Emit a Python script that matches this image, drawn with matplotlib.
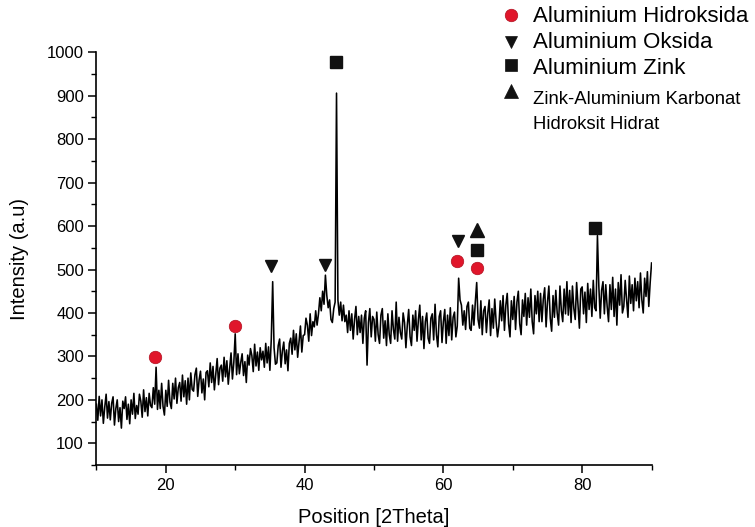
import numpy as np
import matplotlib
matplotlib.use("Agg")
import matplotlib.pyplot as plt
from matplotlib.lines import Line2D
from matplotlib.ticker import MultipleLocator

plt.rcParams['font.family'] = ['Liberation Sans', 'DejaVu Sans']

# 2theta grid: 10.0 .. 90.0 in 0.2 steps
two_theta_start = 10.0
two_theta_step = 0.2
intensity = [
    190, 153, 208, 163, 200, 146, 183, 213, 158, 196,   # 10-12
    154, 192, 207, 142, 180, 200, 150, 182, 135, 197,   # 12-14
    180, 207, 155, 190, 145, 200, 167, 215, 157, 187,   # 14-16
    167, 213, 197, 160, 223, 173, 205, 163, 215, 187,   # 16-18
    182, 228, 190, 275, 178, 222, 180, 238, 185, 165,   # 18-20
    222, 185, 245, 195, 180, 238, 202, 250, 192, 228,   # 20-22
    240, 197, 257, 207, 244, 190, 250, 200, 262, 224,   # 22-24
    220, 258, 273, 208, 246, 266, 216, 248, 200, 263,   # 24-26
    267, 230, 285, 240, 277, 223, 260, 295, 235, 273,   # 26-28
    280, 243, 298, 253, 290, 236, 273, 308, 248, 286,   # 28-30
    352, 258, 306, 260, 286, 306, 256, 288, 240, 303,   # 30-32
    280, 318, 302, 265, 328, 278, 310, 268, 320, 292,   # 32-34
    312, 275, 330, 285, 322, 268, 340, 472, 320, 282,   # 34-36
    285, 325, 340, 275, 313, 333, 283, 315, 267, 330,   # 36-38
    342, 305, 360, 315, 352, 298, 335, 370, 310, 348,   # 38-40
    350, 388, 372, 335, 398, 348, 380, 368, 405, 372,   # 40-42
    398, 435, 405, 450, 420, 487, 440, 412, 430, 385,   # 42-44
    378, 410, 425, 906, 430, 395, 425, 382, 418, 380,   # 44-46
    395, 355, 405, 360, 398, 340, 385, 415, 350, 392,   # 46-48
    355, 395, 330, 388, 405, 280, 378, 410, 345, 392,   # 48-50
    385, 335, 402, 350, 330, 395, 410, 342, 382, 325,   # 50-52
    398, 350, 330, 405, 362, 340, 425, 335, 390, 355,   # 52-54
    340, 400, 378, 320, 372, 408, 345, 325, 395, 360,   # 54-56
    405, 335, 385, 418, 338, 392, 318, 380, 400, 342,   # 56-58
    330, 388, 398, 338, 420, 350, 322, 392, 405, 332,   # 58-60
    380, 408, 330, 395, 348, 412, 338, 390, 402, 345,   # 60-62
    370, 480, 430, 418, 372, 405, 362, 415, 425, 365,   # 62-64
    360, 418, 372, 425, 470, 385, 365, 428, 350, 405,   # 64-66
    415, 355, 400, 430, 348, 410, 365, 432, 380, 345,   # 66-68
    370, 428, 382, 440, 360, 418, 445, 375, 345, 428,   # 68-70
    385, 438, 362, 425, 450, 375, 350, 430, 392, 445,   # 70-72
    372, 435, 390, 455, 380, 352, 440, 398, 450, 380,   # 72-74
    445, 380, 432, 458, 368, 425, 462, 388, 358, 440,   # 74-76
    390, 452, 400, 372, 462, 405, 380, 455, 398, 472,   # 76-78
    395, 452, 378, 462, 410, 385, 470, 418, 365, 455,   # 78-80
    460, 398, 448, 378, 468, 408, 455, 392, 475, 412,   # 80-82
    405, 578, 462, 388, 452, 472, 398, 465, 415, 380,   # 82-84
    465, 408, 482, 392, 455, 372, 470, 418, 488, 400,   # 84-86
    415, 475, 430, 390, 485, 422, 465, 405, 480, 428,   # 86-88
    472, 412, 492, 430, 400, 480, 438, 495, 415, 470,   # 88-90
    515,
]
two_theta = two_theta_start + two_theta_step * np.arange(len(intensity))

# phase markers (position, intensity)
hidroksida_x = [18.5, 30.0, 61.9, 64.8]
hidroksida_y = [298, 370, 519, 503]
oksida_x = [35.2, 42.9, 62.1]
oksida_y = [508, 510, 566]
zink_x = [44.5, 64.8, 81.9]
zink_y = [977, 546, 596]
karbonat_x = [64.8]
karbonat_y = [590]

legend_labels = ["Aluminium Hidroksida", "Aluminium Oksida", "Aluminium Zink",
                 "Zink-Aluminium Karbonat\nHidroksit Hidrat"]

RED = '#e0162b'
DARK = '#111111'

W, H = 755, 527
fig = plt.figure(figsize=(W / 100, H / 100), dpi=100)
ax = fig.add_axes([0.1277, 0.1176, 0.7353, 0.7832])

ax.plot(two_theta, intensity, color='black', lw=1.15)

ax.plot(hidroksida_x, hidroksida_y, 'o', color=RED, ms=9, mec='#b01020', mew=0.5, ls='none')
ax.plot(oksida_x, oksida_y, 'v', color=DARK, ms=9, ls='none')
ax.plot(zink_x, zink_y, 's', color=DARK, ms=8, ls='none')
ax.plot(karbonat_x, karbonat_y, '^', color=DARK, ms=10, ls='none')

ax.set_xlim(10, 90)
ax.set_ylim(50, 1000)
ax.xaxis.set_major_locator(MultipleLocator(20))
ax.xaxis.set_minor_locator(MultipleLocator(10))
ax.yaxis.set_minor_locator(MultipleLocator(50))
ax.set_yticks([100, 200, 300, 400, 500, 600, 700, 800, 900, 1000])

for s in ['top', 'right']:
    ax.spines[s].set_visible(False)
for s in ['left', 'bottom']:
    ax.spines[s].set_linewidth(1.2)

ax.tick_params(axis='both', which='major', direction='out', length=6, width=1.1,
               labelsize=12, colors='black', pad=3)
ax.tick_params(axis='both', which='minor', direction='out', length=3.5, width=1.0)

ax.set_xlabel("Position [2Theta]", fontsize=14.5, labelpad=11)
ax.set_ylabel("Intensity (a.u)", fontsize=14.5, labelpad=13)

# legend (placed in figure pixels, top-right, outside the plot area)
def fx(px):
    return px / W

def fy(py):
    return 1 - py / H

leg_markers = [('o', RED, 9, 15), ('v', DARK, 9, 42), ('s', DARK, 8, 65), ('^', DARK, 10, 91)]
for (m, c, ms, py) in leg_markers:
    fig.add_artist(Line2D([fx(511)], [fy(py)], transform=fig.transFigure, marker=m,
                          color=c, ms=ms, ls='none',
                          mec='#b01020' if c == RED else c, mew=0.5))
text_rows = [16, 43, 68]
for lab, py in zip(legend_labels[:3], text_rows):
    fig.text(fx(533), fy(py), lab, fontsize=16, va='center', ha='left')
fig.text(fx(533), fy(112), legend_labels[3], fontsize=13.3, va='center', ha='left',
         linespacing=1.6)

fig.savefig("out.png", dpi=100)
